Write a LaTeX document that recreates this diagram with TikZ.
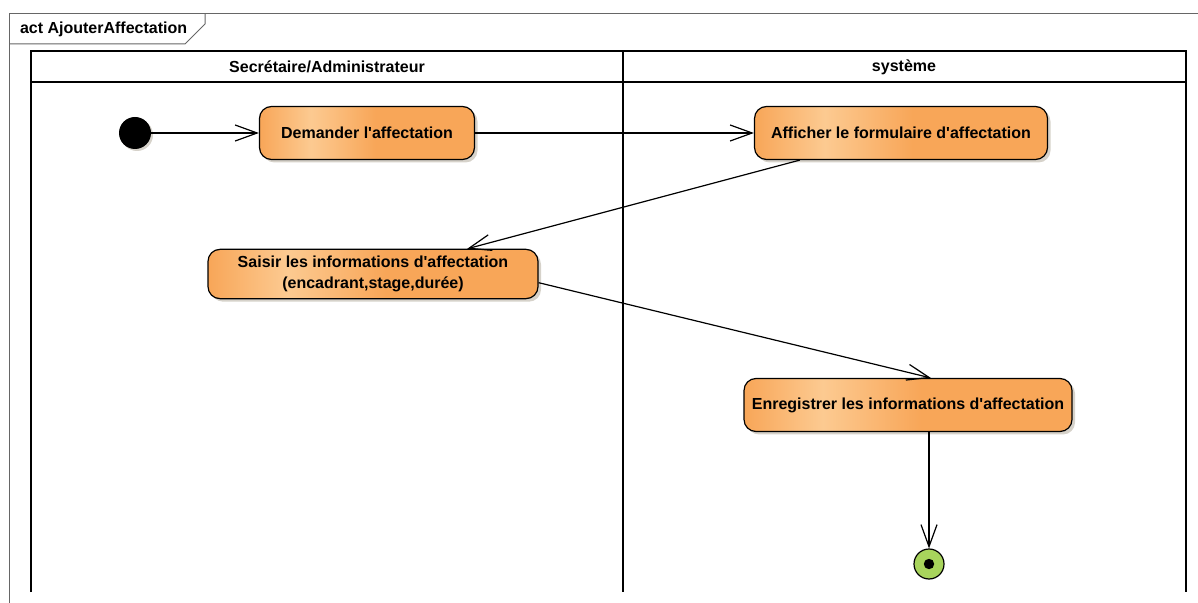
\documentclass[tikz,border=0pt]{standalone}
\usepackage{fontspec}
\setmainfont{Liberation Sans}
\usetikzlibrary{arrows.meta,shadows}
\definecolor{actorange}{RGB}{248,166,88}
\definecolor{actlight}{RGB}{252,202,145}
\definecolor{finalgreen}{RGB}{168,212,92}
\definecolor{shadowgray}{RGB}{214,210,202}
\pgfdeclarehorizontalshading{actshade}{100bp}{color(0bp)=(actorange); color(25bp)=(actorange); color(37bp)=(actlight); color(52bp)=(actorange); color(100bp)=(actorange)}
\begin{document}
\begin{tikzpicture}[x=0.5pt,y=-0.5pt,
  every node/.style={font=\fontsize{8}{10.5}\selectfont\bfseries},
  action/.style={draw,line width=0.6pt,rounded corners=6pt,shade,shading=actshade,
    minimum height=26.5pt,align=center,
    drop shadow={shadow xshift=1.5pt,shadow yshift=-1.5pt,fill=shadowgray,opacity=1}},
  flow/.style={line width=0.6pt,-{Straight Barb[length=11pt,width=8pt]}},
  lane/.style={line width=0.8pt}]
\useasboundingbox (0,0) rectangle (1198,603);
% frame
\draw[black!60,line width=0.5pt] (9,603) -- (9,14) -- (1198,14);
\draw[black!60,line width=0.5pt] (9,44) -- (185,44) -- (205,24) -- (205,14);
\node[anchor=west] (title) at (13,29) {act AjouterAffectation};
% swimlanes
\draw[lane] (31,592) -- (31,51) -- (1186,51) -- (1186,592);
\draw[lane] (31,82) -- (1186,82);
\draw[lane] (623,51) -- (623,592);
\node (lanesec) at (327,67) {Secrétaire/Administrateur};
\node (lanesys) at (904,67) {système};
% actions
\node[circle,fill=black,minimum size=16pt,inner sep=0pt,
  drop shadow={shadow xshift=1pt,shadow yshift=-1pt,fill=shadowgray,opacity=1}] (init) at (135,133) {};
\node[action,minimum width=107.5pt] (dem) at (367,133) {Demander l\textquotesingle affectation};
\node[action,minimum width=146.5pt] (aff) at (901,133) {Afficher le formulaire d\textquotesingle affectation};
\node[action,minimum width=165pt,minimum height=24pt] (sai) at (373,274) {Saisir les informations d\textquotesingle affectation\\(encadrant,stage,durée)};
\node[action,minimum width=164pt] (enr) at (908,405) {Enregistrer les informations d\textquotesingle affectation};
\node[circle,draw,line width=0.6pt,fill=finalgreen,minimum size=15pt,inner sep=0pt] (fin) at (929,564) {};
\fill[black] (fin.center) circle (2.6pt);
% flows
\draw[flow] (init) -- (dem);
\draw[flow] (dem) -- (aff);
\draw[flow] (aff.195) -- (sai.15);
\draw[flow] (sai.-3) -- (enr.50);
\draw[flow] (enr.south -| fin.north) -- (fin.north);
\end{tikzpicture}
\end{document}
